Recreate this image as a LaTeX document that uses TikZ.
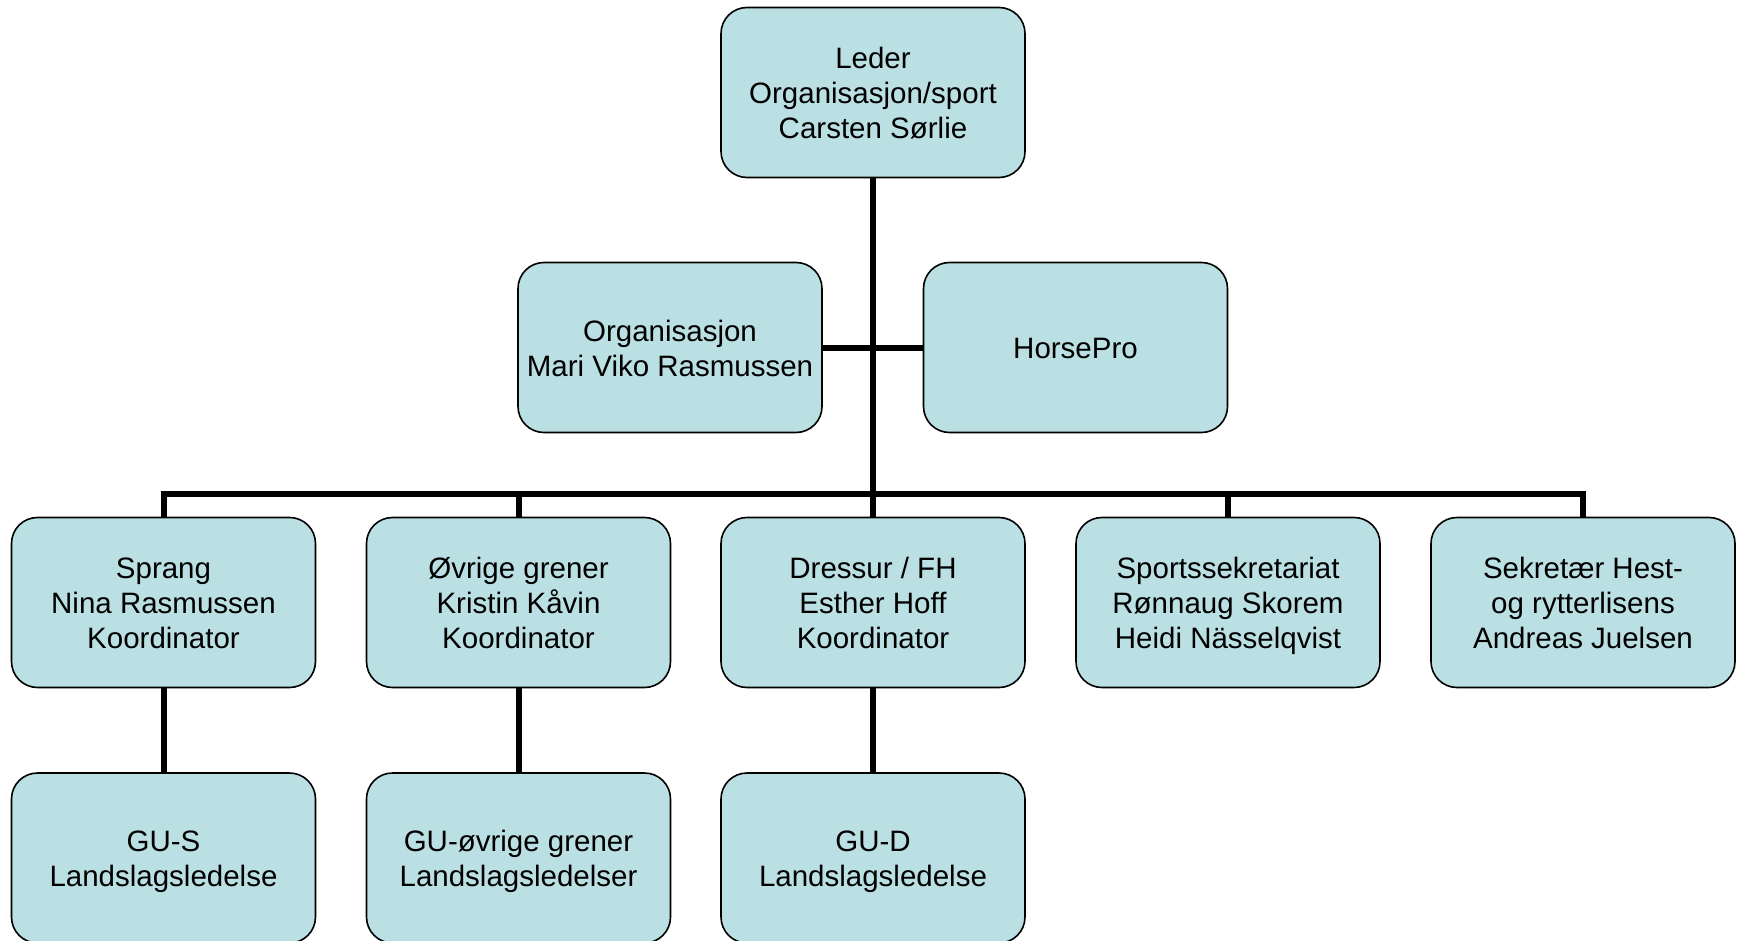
\documentclass[tikz,border=0pt]{standalone}
\usepackage{fontspec}
\setmainfont{Liberation Sans}
\definecolor{boxfill}{RGB}{187,224,228}
\newcommand\lnstrut{\rule[-6.5pt]{0pt}{35pt}}
\tikzset{
  orgbox/.style={draw=black, line width=1.6pt, fill=boxfill, rounded corners=26pt,
    minimum width=304pt, minimum height=170pt, inner sep=0pt, align=center,
    font=\fontsize{29.5}{35}\selectfont},
  conn/.style={draw=black, line width=6pt}
}
\begin{document}
\begin{tikzpicture}[x=1pt,y=-1pt]
\useasboundingbox (0,0) rectangle (1737,941);
% nodes
\node[orgbox] (top) at (873,92.5) {\lnstrut Leder\\\lnstrut Organisasjon/sport\\\lnstrut Carsten Sørlie};
\node[orgbox] (org) at (670,347.5) {\lnstrut Organisasjon\\\lnstrut Mari Viko Rasmussen};
\node[orgbox] (hp) at (1075.5,347.5) {\lnstrut HorsePro};
\node[orgbox] (s1) at (163.5,602.5) {\lnstrut Sprang\\\lnstrut Nina Rasmussen\\\lnstrut Koordinator};
\node[orgbox] (s2) at (518.5,602.5) {\lnstrut Øvrige grener\\\lnstrut Kristin Kåvin\\\lnstrut Koordinator};
\node[orgbox] (s3) at (873,602.5) {\lnstrut Dressur / FH\\\lnstrut Esther Hoff\\\lnstrut Koordinator};
\node[orgbox] (s4) at (1228,602.5) {\lnstrut Sportssekretariat\\\lnstrut Rønnaug Skorem\\\lnstrut Heidi Nässelqvist};
\node[orgbox] (s5) at (1583,602.5) {\lnstrut Sekretær Hest-\\\lnstrut og rytterlisens\\\lnstrut Andreas Juelsen};
\node[orgbox] (g1) at (163.5,858) {\lnstrut GU-S\\\lnstrut Landslagsledelse};
\node[orgbox] (g2) at (518.5,858) {\lnstrut GU-øvrige grener\\\lnstrut Landslagsledelser};
\node[orgbox] (g3) at (873,858) {\lnstrut GU-D\\\lnstrut Landslagsledelse};
\coordinate (bus) at (873,494);
% connectors
\draw[conn] (top.south) -- (s3.north);
\draw[conn] (org.east) -- (hp.west);
\draw[conn] (s1.north) |- (bus) -| (s5.north);
\draw[conn] (s2.north) -- (s2.north |- bus);
\draw[conn] (s4.north) -- (s4.north |- bus);
\draw[conn] (s1.south) -- (g1.north);
\draw[conn] (s2.south) -- (g2.north);
\draw[conn] (s3.south) -- (g3.north);
\end{tikzpicture}
\end{document}
